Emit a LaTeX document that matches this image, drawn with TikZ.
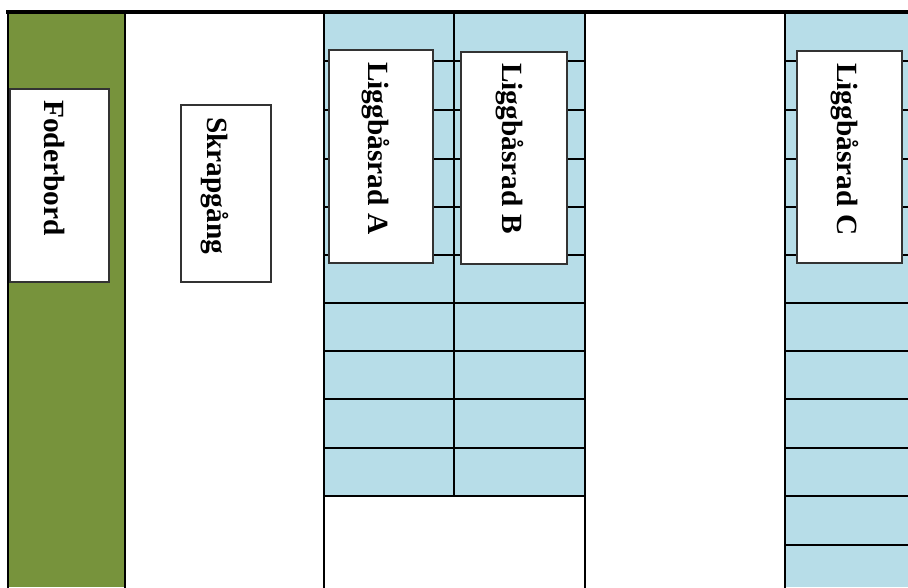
\documentclass[tikz,border=0pt]{standalone}
\usepackage{fontspec}
\setmainfont{Liberation Serif}
\definecolor{feedgreen}{RGB}{119,147,60}
\definecolor{stallblue}{RGB}{183,221,232}
\begin{document}
\begin{tikzpicture}[x=0.75pt,y=-0.75pt,
  wall/.style={line width=2pt,line cap=rect},
  topwall/.style={line width=2.4pt,line cap=rect},
  grid/.style={line width=1.6pt},
  labelbox/.style={draw=black!80,fill=white,line width=0.9pt,inner sep=0pt},
  lbl/.style={rotate=-90,anchor=base west,inner sep=0pt,font=\fontsize{22}{26}\selectfont\bfseries}]
\useasboundingbox (0,0) rectangle (908,587);
% areas
\fill[feedgreen] (8,12) rectangle (125,587);
\fill[stallblue] (324,12) rectangle (585,496);
\fill[stallblue] (785,12) rectangle (908,587);
% stall dividers
\foreach \y in {61,110,159,207,255,303,351,399,448}
  \draw[grid] (324,\y) -- (585,\y);
\foreach \y in {61,110,159,207,255,303,351,399,448,496,545}
  \draw[grid] (785,\y) -- (908,\y);
\draw[grid] (454,12) -- (454,496);
% walls
\draw[wall] (324,496) -- (585,496);
\draw[wall] (8,587) -- (8,12);
\foreach \x in {125,324,585,785}
  \draw[wall] (\x,12) -- (\x,587);
\draw[topwall] (8,12) -- (908,12);
% label boxes
\node[labelbox,minimum width=74.25pt,minimum height=144.75pt] (fod) at (59.5,185.5) {};
\node[labelbox,minimum width=67.5pt,minimum height=132.75pt] (skr) at (226,193.5) {};
\node[labelbox,minimum width=78pt,minimum height=159.75pt] (rada) at (381,156.5) {};
\node[labelbox,minimum width=79.5pt,minimum height=159pt] (radb) at (514,158) {};
\node[labelbox,minimum width=78.75pt,minimum height=159pt] (radc) at (849.5,157) {};
% labels
\node[lbl] (tfod) at (45,100) {Foderbord};
\node[lbl] (tskr) at (207,117) {Skrapgång};
\node[lbl] (trada) at (368,62) {Liggbåsrad A};
\node[lbl] (tradb) at (502,63) {Liggbåsrad B};
\node[lbl] (tradc) at (837,63) {Liggbåsrad C};
\end{tikzpicture}
\end{document}
